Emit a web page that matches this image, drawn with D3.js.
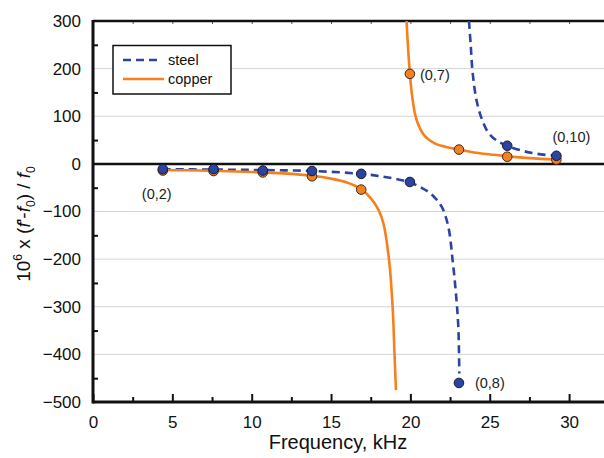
<!DOCTYPE html>
<html>
<head>
<meta charset="utf-8">
<script src="https://cdn.jsdelivr.net/npm/d3@7"></script>
<style>
  body { margin: 0; background: #fff; }
  svg { display: block; font-family: "Liberation Sans", Arial, sans-serif; }
</style>
</head>
<body>
<div id="chart"></div>
<script>
// measured points (0,n) modes
const freqs = [4.4, 7.6, 10.7, 13.8, 16.9, 19.97, 23.06, 26.1, 29.2];
const steelVals = [-11, -11, -14, -15, -21, -38, -460, 38, 17];
const copperVals = [-14, -15, -18, -26, -54, 189, 30, 15, 9];

// fitted curves
const steelFitLow = [[4.4, -11], [7.6, -12], [10.7, -13], [13.8, -15], [16.9, -21], [18.5, -28], [19.97, -39],
  [20.7, -50], [21.3, -63], [21.97, -90], [22.39, -132], [22.66, -202], [22.87, -272], [23.02, -342], [23.08, -440]];
const steelFitHigh = [[23.69, 300], [23.8, 250], [23.9, 200], [24.08, 150], [24.3, 115], [24.55, 90], [24.9, 66],
  [25.4, 50], [26.1, 38], [27, 28], [28, 21], [29.2, 17]];
const copperFitLow = [[4.4, -13], [6, -13.5], [8, -15], [10, -17], [12, -20], [13.8, -25], [15, -31], [16, -39],
  [16.9, -53], [17.5, -72], [18.0, -97], [18.3, -125], [18.65, -200], [18.88, -300], [19.0, -400], [19.09, -475]];
const copperFitHigh = [[19.76, 300], [19.85, 245], [19.97, 189], [20.1, 145], [20.29, 105], [20.5, 82], [20.8, 63],
  [21.15, 51], [21.6, 42], [22.2, 36], [23.06, 30], [24, 24], [25.3, 19], [26.1, 16], [27.5, 12], [29.2, 9]];

const modeLabels = [
  { text: '(0,2)', f: 4.4, v: -11, dx: -21, dy: 30 },
  { text: '(0,7)', f: 19.97, v: 189, dx: 10, dy: 6 },
  { text: '(0,8)', f: 23.06, v: -460, dx: 16, dy: 5 },
  { text: '(0,10)', f: 29.2, v: 17, dx: -4, dy: -14 }
];

const xTicks = [0, 5, 10, 15, 20, 25, 30];
const yTicks = [-500, -400, -300, -200, -100, 0, 100, 200, 300];

const width = 604, height = 458;
const margin = { top: 21, right: 0, bottom: 56, left: 93 };
const innerWidth = width - margin.left - margin.right;
const innerHeight = height - margin.top - margin.bottom;

const blue = '#2b44a3';
const orange = '#f7801e';

const svg = d3.select('#chart').append('svg')
  .attr('width', width)
  .attr('height', height);

const x = d3.scaleLinear().domain([0, 32.2]).range([0, innerWidth]);
const y = d3.scaleLinear().domain([-500, 300]).range([innerHeight, 0]);

const g = svg.append('g').attr('transform', `translate(${margin.left},${margin.top})`);

svg.append('defs').append('clipPath').attr('id', 'clip')
  .append('rect').attr('x', 0).attr('y', 0).attr('width', innerWidth).attr('height', innerHeight);

// grid
g.selectAll('.grid')
  .data(yTicks.filter(d => d !== 0 && d !== 300 && d !== -500))
  .enter().append('line')
  .attr('x1', 0).attr('x2', innerWidth)
  .attr('y1', d => y(d)).attr('y2', d => y(d))
  .attr('stroke', '#d4d4d4').attr('stroke-width', 1);

// tick marks only (no labels)
const tickOnly = (axis, transform, color, w) => {
  const a = g.append('g').attr('transform', transform).call(axis);
  a.select('.domain').remove();
  a.selectAll('text').remove();
  a.selectAll('line').attr('stroke', color).attr('stroke-width', w);
};

tickOnly(d3.axisRight(y).tickValues(d3.range(-450, 300, 100)).tickSize(5), 'translate(0,0)', '#111', 2);
tickOnly(d3.axisTop(x).tickValues(xTicks).tickSize(8), `translate(0,${innerHeight})`, '#111', 2);
tickOnly(d3.axisTop(x).tickValues(d3.range(2.5, 32, 5)).tickSize(5), `translate(0,${innerHeight})`, '#111', 2);
tickOnly(d3.axisBottom(x).tickValues(d3.range(0, 32.5, 2.5)).tickSize(3), 'translate(0,0)', '#555', 1);

// tick labels
const yAxis = g.append('g')
  .call(d3.axisLeft(y).tickValues(yTicks).tickSize(0).tickPadding(12).tickFormat(d3.format('d')));
yAxis.select('.domain').remove();
yAxis.selectAll('text').style('font-size', '17px').attr('fill', '#111');

const xAxis = g.append('g')
  .attr('transform', `translate(0,${innerHeight})`)
  .call(d3.axisBottom(x).tickValues(xTicks).tickSize(0).tickPadding(14));
xAxis.select('.domain').remove();
xAxis.selectAll('text').style('font-size', '17px').attr('fill', '#111');

// frame lines
g.append('line').attr('x1', 0).attr('x2', innerWidth).attr('y1', 0).attr('y2', 0)
  .attr('stroke', '#111').attr('stroke-width', 2.5);
g.append('line').attr('x1', 0).attr('x2', innerWidth).attr('y1', y(0)).attr('y2', y(0))
  .attr('stroke', '#111').attr('stroke-width', 2.5);
g.append('line').attr('x1', 0).attr('x2', innerWidth).attr('y1', innerHeight).attr('y2', innerHeight)
  .attr('stroke', '#111').attr('stroke-width', 3);
g.append('line').attr('x1', 0).attr('x2', 0).attr('y1', -1).attr('y2', innerHeight + 1.5)
  .attr('stroke', '#111').attr('stroke-width', 3);

// fit curves
const line = d3.line().x(d => x(d[0])).y(d => y(d[1])).curve(d3.curveCatmullRom.alpha(0.5));
const curves = g.append('g').attr('clip-path', 'url(#clip)');
[steelFitLow, steelFitHigh].forEach(c => {
  curves.append('path').datum(c)
    .attr('fill', 'none').attr('stroke', blue).attr('stroke-width', 2.6)
    .attr('stroke-dasharray', '8,5').attr('d', line);
});
[copperFitLow, copperFitHigh].forEach(c => {
  curves.append('path').datum(c)
    .attr('fill', 'none').attr('stroke', orange).attr('stroke-width', 2.6)
    .attr('d', line);
});

// markers
g.selectAll('.cu').data(freqs).enter().append('circle')
  .attr('cx', d => x(d)).attr('cy', (d, i) => y(copperVals[i]))
  .attr('r', 4.8).attr('fill', orange).attr('stroke', '#3a2a1a').attr('stroke-width', 1);
g.selectAll('.st').data(freqs).enter().append('circle')
  .attr('cx', d => x(d)).attr('cy', (d, i) => y(steelVals[i]))
  .attr('r', 4.8).attr('fill', blue).attr('stroke', '#1a1a2a').attr('stroke-width', 1);

// mode labels
g.selectAll('.ml').data(modeLabels).enter().append('text')
  .attr('x', d => x(d.f) + d.dx).attr('y', d => y(d.v) + d.dy)
  .style('font-size', '14.5px').attr('fill', '#222')
  .text(d => d.text);

// legend
const lg = svg.append('g');
lg.append('rect').attr('x', 113).attr('y', 45.5).attr('width', 118).attr('height', 48.5)
  .attr('fill', '#fff').attr('stroke', '#111').attr('stroke-width', 1.5);
lg.append('line').attr('x1', 123).attr('x2', 159).attr('y1', 60).attr('y2', 60)
  .attr('stroke', blue).attr('stroke-width', 2.6).attr('stroke-dasharray', '8,5');
lg.append('line').attr('x1', 123).attr('x2', 164).attr('y1', 79).attr('y2', 79)
  .attr('stroke', orange).attr('stroke-width', 2.6);
lg.append('text').attr('x', 168).attr('y', 65).style('font-size', '14.5px').attr('fill', '#111').text('steel');
lg.append('text').attr('x', 168).attr('y', 84).style('font-size', '14.5px').attr('fill', '#111').text('copper');

// axis titles
svg.append('text').attr('x', 338).attr('y', 449).attr('text-anchor', 'middle')
  .style('font-size', '20px').attr('fill', '#111').text('Frequency, kHz');

const yt = svg.append('g')
  .attr('transform', 'translate(30,224) rotate(-90)')
  .append('text')
  .attr('text-anchor', 'middle')
  .style('font-size', '19px').attr('fill', '#111');
yt.append('tspan').text('10');
yt.append('tspan').attr('dy', -8).style('font-size', '12px').text('6');
yt.append('tspan').attr('dy', 8).text(' x (');
yt.append('tspan').style('font-style', 'italic').text('f');
yt.append('tspan').text('\'-');
yt.append('tspan').style('font-style', 'italic').text('f');
yt.append('tspan').attr('dy', 5).style('font-size', '12px').text('0');
yt.append('tspan').attr('dy', -5).text(') / ');
yt.append('tspan').style('font-style', 'italic').text('f');
yt.append('tspan').attr('dy', 5).style('font-size', '12px').text('0');
</script>
</body>
</html>
